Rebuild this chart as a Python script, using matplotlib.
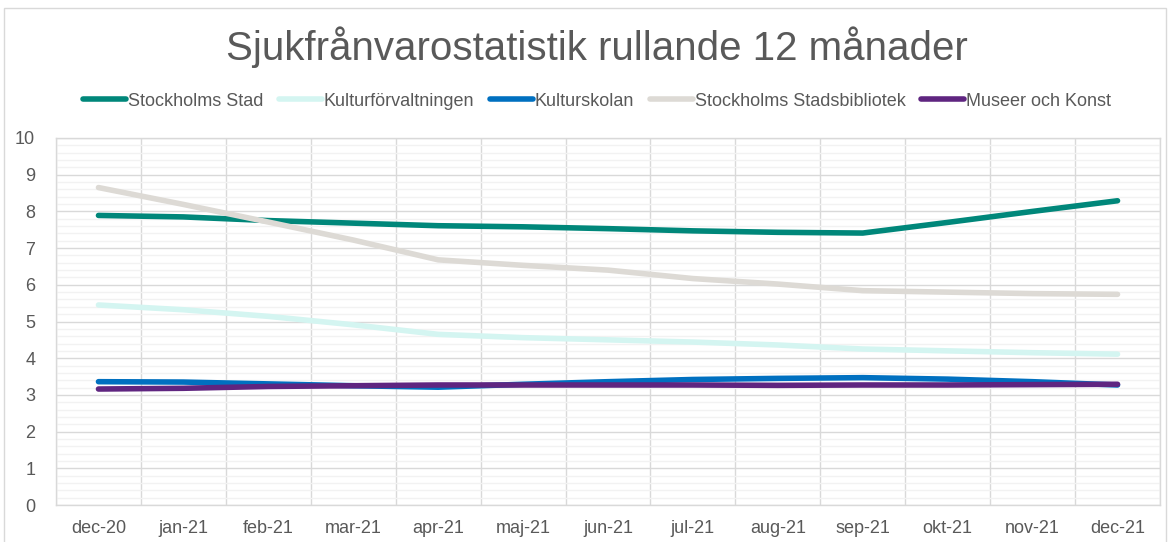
import matplotlib
matplotlib.use("Agg")
import matplotlib.pyplot as plt
from matplotlib.patches import Rectangle
from matplotlib.ticker import MultipleLocator

months = ["dec-20", "jan-21", "feb-21", "mar-21", "apr-21", "maj-21", "jun-21",
          "jul-21", "aug-21", "sep-21", "okt-21", "nov-21", "dec-21"]

stockholms_stad = [7.89, 7.85, 7.75, 7.68, 7.61, 7.58, 7.53, 7.47, 7.43, 7.41, 7.70, 8.00, 8.29]
kulturforvaltningen = [5.45, 5.32, 5.14, 4.91, 4.65, 4.56, 4.50, 4.44, 4.36, 4.25, 4.20, 4.15, 4.11]
kulturskolan = [3.36, 3.35, 3.30, 3.25, 3.21, 3.29, 3.36, 3.42, 3.45, 3.47, 3.43, 3.36, 3.27]
stadsbiblioteket = [8.65, 8.19, 7.71, 7.22, 6.68, 6.53, 6.40, 6.17, 6.02, 5.84, 5.80, 5.76, 5.74]
museer_konst = [3.16, 3.18, 3.23, 3.25, 3.27, 3.27, 3.27, 3.27, 3.26, 3.27, 3.27, 3.28, 3.29]

series = [
    ("Stockholms Stad", stockholms_stad, "#00877A"),
    ("Kulturförvaltningen", kulturforvaltningen, "#D4F5F1"),
    ("Kulturskolan", kulturskolan, "#0070C0"),
    ("Stockholms Stadsbibliotek", stadsbiblioteket, "#DDDAD5"),
    ("Museer och Konst", museer_konst, "#5F2580"),
]

plt.rcParams['font.family'] = ['Liberation Sans', 'DejaVu Sans']
W, H = 1169, 542
fig = plt.figure(figsize=(W / 100, H / 100), dpi=100)
fig.patch.set_facecolor("white")

# outer chart border
fig.patches.append(Rectangle((4 / W, -0.1), (1166 - 4) / W, 1.1 - 8 / H,
                             transform=fig.transFigure, fill=False,
                             edgecolor="#D9D9D9", linewidth=1.0))

left, right = 56 / W, 1160 / W
bottom, top = 1 - 505 / H, 1 - 138 / H
ax = fig.add_axes([left, bottom, right - left, top - bottom])

x = list(range(len(months)))
for name, vals, col in series:
    ax.plot(x, vals, color=col, linewidth=4.0, solid_capstyle="round",
            solid_joinstyle="round", label=name)

ax.set_xlim(-0.5, len(months) - 0.5)
ax.set_ylim(0, 10)
ax.set_xticks(x)
ax.set_xticklabels(months)
ax.yaxis.set_major_locator(MultipleLocator(1))
ax.yaxis.set_minor_locator(MultipleLocator(0.2))
ax.xaxis.set_minor_locator(MultipleLocator(1, offset=0.5))

ax.grid(which="major", axis="y", color="#D9D9D9", linewidth=1.0, zorder=0)
ax.grid(which="minor", axis="y", color="#F2F2F2", linewidth=1.0, zorder=0)
ax.grid(which="minor", axis="x", color="#D9D9D9", linewidth=1.0, zorder=0)
ax.set_axisbelow(True)

for s in ax.spines.values():
    s.set_color("#D9D9D9")
    s.set_linewidth(1.0)

ax.tick_params(axis="both", which="both", length=0, colors="#595959", labelsize=13)
ax.tick_params(axis="x", pad=11)
ax.tick_params(axis="y", pad=15)

fig.text(597 / W, 1 - 47 / H, "Sjukfrånvarostatistik rullande 12 månader",
         ha="center", va="center", fontsize=29, color="#595959")

leg = fig.legend(loc="center", bbox_to_anchor=(597 / W, 1 - 101 / H), ncol=5,
                 frameon=False, fontsize=13, handlelength=2.4, handletextpad=0.1,
                 columnspacing=0.85, labelcolor="#595959")
for lh in leg.get_lines():
    lh.set_linewidth(4.0)

fig.savefig("out.png", dpi=100, facecolor="white")
